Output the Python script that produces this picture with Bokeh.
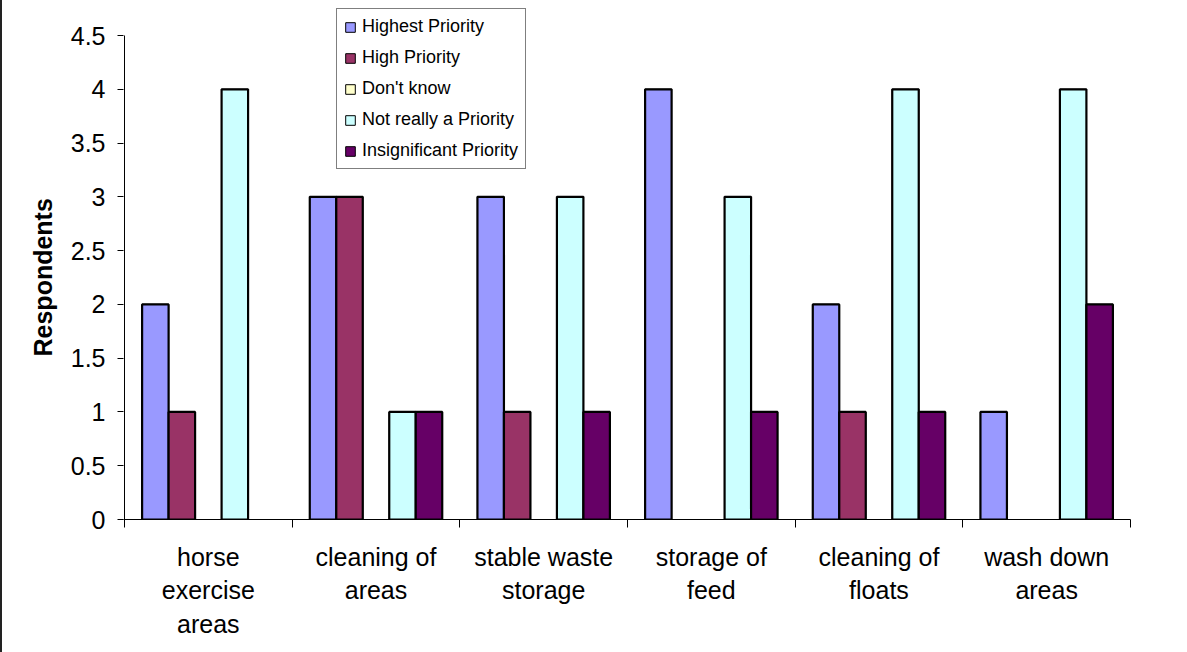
from bokeh.plotting import figure
from bokeh.models import FixedTicker, Legend, LegendItem, Range1d, Title, ColumnDataSource
from bokeh.embed import file_html
from bokeh.resources import INLINE

# Survey: how respondents ranked each stable-management issue
categories = [
    "horse\nexercise\nareas",
    "cleaning of\nareas",
    "stable waste\nstorage",
    "storage of\nfeed",
    "cleaning of\nfloats",
    "wash down\nareas",
]
series_names = [
    "Highest Priority",
    "High Priority",
    "Don't know",
    "Not really a Priority",
    "Insignificant Priority",
]
highest_priority = [2, 3, 3, 4, 2, 1]
high_priority = [1, 3, 1, 0, 1, 0]
dont_know = [0, 0, 0, 0, 0, 0]
not_really_priority = [4, 1, 3, 3, 4, 4]
insignificant_priority = [0, 1, 1, 1, 1, 2]
series_colors = ["#9999FF", "#993366", "#FFFFCC", "#CCFFFF", "#660066"]
y_tick_values = [0, 0.5, 1, 1.5, 2, 2.5, 3, 3.5, 4, 4.5]
y_max = 4.5

series_values = [highest_priority, high_priority, dont_know,
                 not_really_priority, insignificant_priority]

FONT = "Liberation Sans"
bar_w = 0.158  # width of one bar in category units

# The frame reaches a little above the top tick so the legend box fits inside it.
frame_top_px, axis_top_px, axis_bottom_px = 5, 35, 519
y_end = y_max * (axis_bottom_px - frame_top_px) / (axis_bottom_px - axis_top_px)
frame_h = axis_bottom_px - frame_top_px

p = figure(
    frame_width=1007, frame_height=frame_h,
    min_border_left=121, min_border_top=frame_top_px, min_border_right=59,
    min_border_bottom=652 - axis_bottom_px,
    x_range=Range1d(-0.006, len(categories)), y_range=Range1d(0, y_end),
    output_backend="svg", toolbar_location=None,
    background_fill_color="white", border_fill_color="white",
)
p.outline_line_color = None
p.xgrid.visible = False
p.ygrid.visible = False
p.styles = {"border-left": "2px solid #222222"}

centers = [i + 0.5 for i in range(len(categories))]
legend_items = []
for k, (name, vals, color) in enumerate(zip(series_names, series_values, series_colors)):
    src = ColumnDataSource(dict(
        x=[c + (k - 2) * bar_w for c in centers],
        top=vals,
        edge=[1.0 if v > 0 else 0.0 for v in vals],  # empty bars get no heavy outline
    ))
    # thin-outlined bars; these also supply the legend swatch
    thin = p.vbar(x="x", top="top", width=bar_w, bottom=0, source=src,
                  fill_color=color, line_color="black", line_width=1)
    # heavier outline drawn on top for bars with a count
    p.vbar(x="x", top="top", width=bar_w, bottom=0, source=src,
           fill_color=color, line_color="black", line_alpha="edge", line_width=2.2)
    legend_items.append(LegendItem(label=name, renderers=[thin]))

# value axis line, stopping at the top tick
p.segment(x0=[0], y0=[0], x1=[0], y1=[y_max], line_color="black", line_width=1)

# y axis
p.yaxis.ticker = FixedTicker(ticks=y_tick_values, minor_ticks=[])
p.yaxis.major_label_overrides = {v: (str(int(v)) if float(v).is_integer() else str(v)) for v in y_tick_values}
p.yaxis.axis_line_color = None
p.yaxis.major_tick_out = 6
p.yaxis.major_tick_in = 0
p.yaxis.minor_tick_out = 0
p.yaxis.major_tick_line_color = "black"
p.yaxis.major_label_text_font = FONT
p.yaxis.major_label_text_font_size = "25px"
p.yaxis.major_label_text_color = "black"
p.yaxis.major_label_standoff = 12

# axis title, centred on the span of the value axis
title_len_px = 158
title_offset = (axis_bottom_px - (axis_top_px + axis_bottom_px) / 2) - title_len_px / 2
p.add_layout(Title(
    text="Respondents", align="left", offset=title_offset, standoff=22,
    text_font=FONT, text_font_size="25px", text_font_style="bold", text_color="black",
), "left")

# x axis: labels at category centres, tick marks at category boundaries
p.xaxis.ticker = FixedTicker(ticks=centers, minor_ticks=list(range(len(categories) + 1)))
p.xaxis.major_label_overrides = {c: lab for c, lab in zip(centers, categories)}
p.xaxis.major_tick_out = 0
p.xaxis.major_tick_in = 0
p.xaxis.minor_tick_out = 8
p.xaxis.minor_tick_in = 0
p.xaxis.minor_tick_line_color = "black"
p.xaxis.axis_line_color = "black"
p.xaxis.major_label_text_font = FONT
p.xaxis.major_label_text_font_size = "25px"
p.xaxis.major_label_text_color = "black"
p.xaxis.major_label_standoff = 15

legend = Legend(
    items=legend_items,
    location=(213, 350),
    orientation="vertical",
    label_text_font=FONT, label_text_font_size="18px", label_text_color="black",
    glyph_width=12, glyph_height=12, label_height=20, spacing=10,
    padding=7, margin=0, label_standoff=6,
    border_line_color="black", border_line_width=1,
    background_fill_color="white", background_fill_alpha=1,
)
p.add_layout(legend, "center")

open("out.html", "w").write(file_html(p, INLINE))
